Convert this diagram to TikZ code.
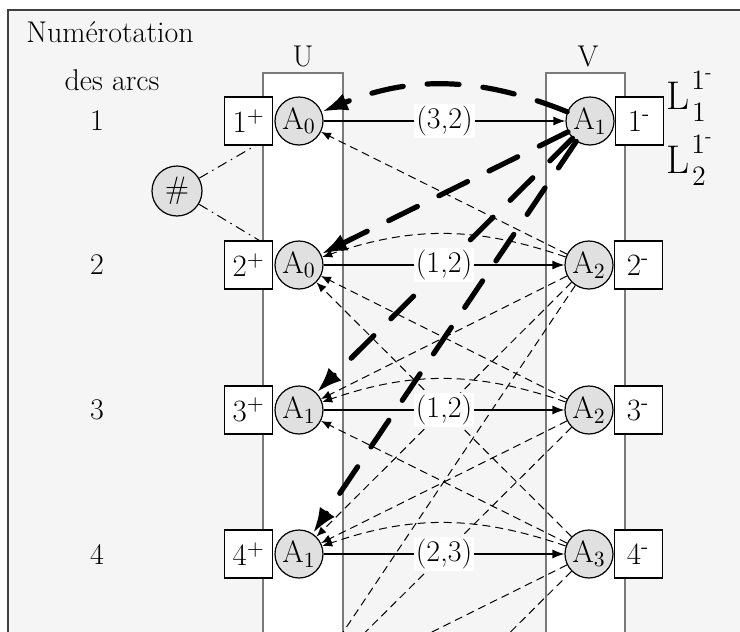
\documentclass[tikz,border=0pt]{standalone}
\usepackage{tikz}
\usetikzlibrary{arrows.meta,positioning,calc}
\definecolor{gpback}{HTML}{F5F5F5}
\definecolor{gpnode}{HTML}{E0E0E0}
\definecolor{gpframe}{HTML}{404040}
\definecolor{gpcol}{HTML}{7A7A7A}
\tikzset{
  vertex/.style={circle, draw=black, fill=gpnode, line width=0.6pt, minimum size=24pt,
    inner sep=0pt, font=\fontsize{15.5}{18}\selectfont},
  portbox/.style={rectangle, draw=black, fill=white, line width=0.6pt, minimum size=24pt,
    inner sep=0pt, font=\fontsize{15.5}{18}\selectfont},
  colbox/.style={draw=gpcol, fill=white, line width=0.8pt},
  sidelabel/.style={font=\fontsize{15}{18}\selectfont, inner sep=0pt},
  listlabel/.style={font=\fontsize{20}{24}\selectfont, inner sep=0pt},
  listindex/.style={font=\fontsize{14}{16}\selectfont, inner sep=0pt},
  costlabel/.style={fill=white, inner sep=1pt, font=\fontsize{15}{18}\selectfont},
  flowarrow/.style={-{Latex[length=6pt,width=4.5pt]}, line width=0.6pt, draw=black},
  listarrow/.style={-{Latex[length=5pt,width=4pt]}, line width=0.5pt, dash pattern=on 4pt off 2.5pt},
  headarrow/.style={-{Latex[length=13pt,width=9pt]}, line width=2.6pt, line cap=round,
    dash pattern=on 16pt off 12pt},
  linkline/.style={line width=0.5pt, dash pattern=on 5pt off 2.5pt on 0.8pt off 2.5pt}
}

\begin{document}
\begin{tikzpicture}[x=0.5pt, y=-0.5pt]
  \useasboundingbox (0,0) rectangle (740,632);
  \clip (0,0) rectangle (740,632);
  % frame and the two columns
  \fill[gpback] (8,10) rectangle (760,660);
  \draw[gpframe, line width=1pt] (8,660) -- (8,10) -- (760,10);
  \draw[colbox] (263,73) rectangle (343,660);
  \draw[colbox] (546,73) rectangle (625,660);

  \node[sidelabel] (title) at (110,32) {Numérotation};
  \node[sidelabel] (subtitle) at (112,80) {des arcs};
  \node[sidelabel] (colu) at (303,56) {U};
  \node[sidelabel] (colv) at (588,56) {V};

  % vertices of U and V
  \node[vertex] (u1) at (299,121) {A\textsubscript{0}};
  \node[vertex] (u2) at (299,265) {A\textsubscript{0}};
  \node[vertex] (u3) at (299,410) {A\textsubscript{1}};
  \node[vertex] (u4) at (299,554) {A\textsubscript{1}};
  \node[vertex] (v1) at (590,121) {A\textsubscript{1}};
  \node[vertex] (v2) at (589,265) {A\textsubscript{2}};
  \node[vertex] (v3) at (589,410) {A\textsubscript{2}};
  \node[vertex] (v4) at (589,554) {A\textsubscript{3}};
  \coordinate (u5) at (299,698);
  \coordinate (u6) at (299,842);

  \node[portbox, left=0.5pt of u1] (pu1) {1\textsuperscript{+}};
  \node[portbox, left=0.5pt of u2] (pu2) {2\textsuperscript{+}};
  \node[portbox, left=0.5pt of u3] (pu3) {3\textsuperscript{+}};
  \node[portbox, left=0.5pt of u4] (pu4) {4\textsuperscript{+}};
  \node[portbox, right=0pt of v1] (pv1) {1\textsuperscript{-}};
  \node[portbox, right=0pt of v2] (pv2) {2\textsuperscript{-}};
  \node[portbox, right=0pt of v3] (pv3) {3\textsuperscript{-}};
  \node[portbox, right=0pt of v4] (pv4) {4\textsuperscript{-}};

  \node[sidelabel] (n1) at (97,121) {1};
  \node[sidelabel] (n2) at (97,265) {2};
  \node[sidelabel] (n3) at (97,410) {3};
  \node[sidelabel] (n4) at (97,554) {4};

  % lists L
  \node[listlabel] (la) at (678,96) {L};
  \node[listindex] (laup) at (702,80) {1\textsuperscript{-}};
  \node[listindex] (ladown) at (699,112) {1};
  \node[listlabel] (lb) at (678,160) {L};
  \node[listindex] (lbup) at (702,144) {1\textsuperscript{-}};
  \node[listindex] (lbdown) at (699,176) {2};

  \node[vertex, minimum size=25pt] (hash) at (177,191) {\#};
  \draw[linkline] (hash) -- (pu1.-75);
  \draw[linkline] (hash) -- (pu2.67);

  % thin dashed arcs
  \draw[listarrow] (v2) -- (u1);
  \draw[listarrow] (v2) to[bend right=19] (u2);
  \draw[listarrow] (v3) -- (u2);
  \draw[listarrow] (v4) -- (u2);
  \draw[listarrow] (v2) -- (u3);
  \draw[listarrow] (v3) to[bend right=19] (u3);
  \draw[listarrow] (v4) -- (u3);
  \draw[listarrow] (v2) -- (u4);
  \draw[listarrow] (v3) -- (u4);
  \draw[listarrow] (v4) to[bend right=19] (u4);
  \draw[listarrow] (v2) -- (u5);
  \draw[listarrow] (v3) -- (u5);
  \draw[listarrow] (v4) -- (u5);
  \draw[listarrow] (v4) -- (u6);

  % thick dashed arcs of the lists
  \draw[headarrow] (v1) to[bend right=22] (u1);
  \draw[headarrow] (v1) -- (u2);
  \draw[headarrow] (v1) -- (u3);
  \draw[headarrow] (v1) -- (u4);

  % solid arcs
  \draw[flowarrow] (u1) -- node[costlabel] {(3,2)} (v1);
  \draw[flowarrow] (u2) -- node[costlabel] {(1,2)} (v2);
  \draw[flowarrow] (u3) -- node[costlabel] {(1,2)} (v3);
  \draw[flowarrow] (u4) -- node[costlabel] {(2,3)} (v4);
\end{tikzpicture}
\end{document}
